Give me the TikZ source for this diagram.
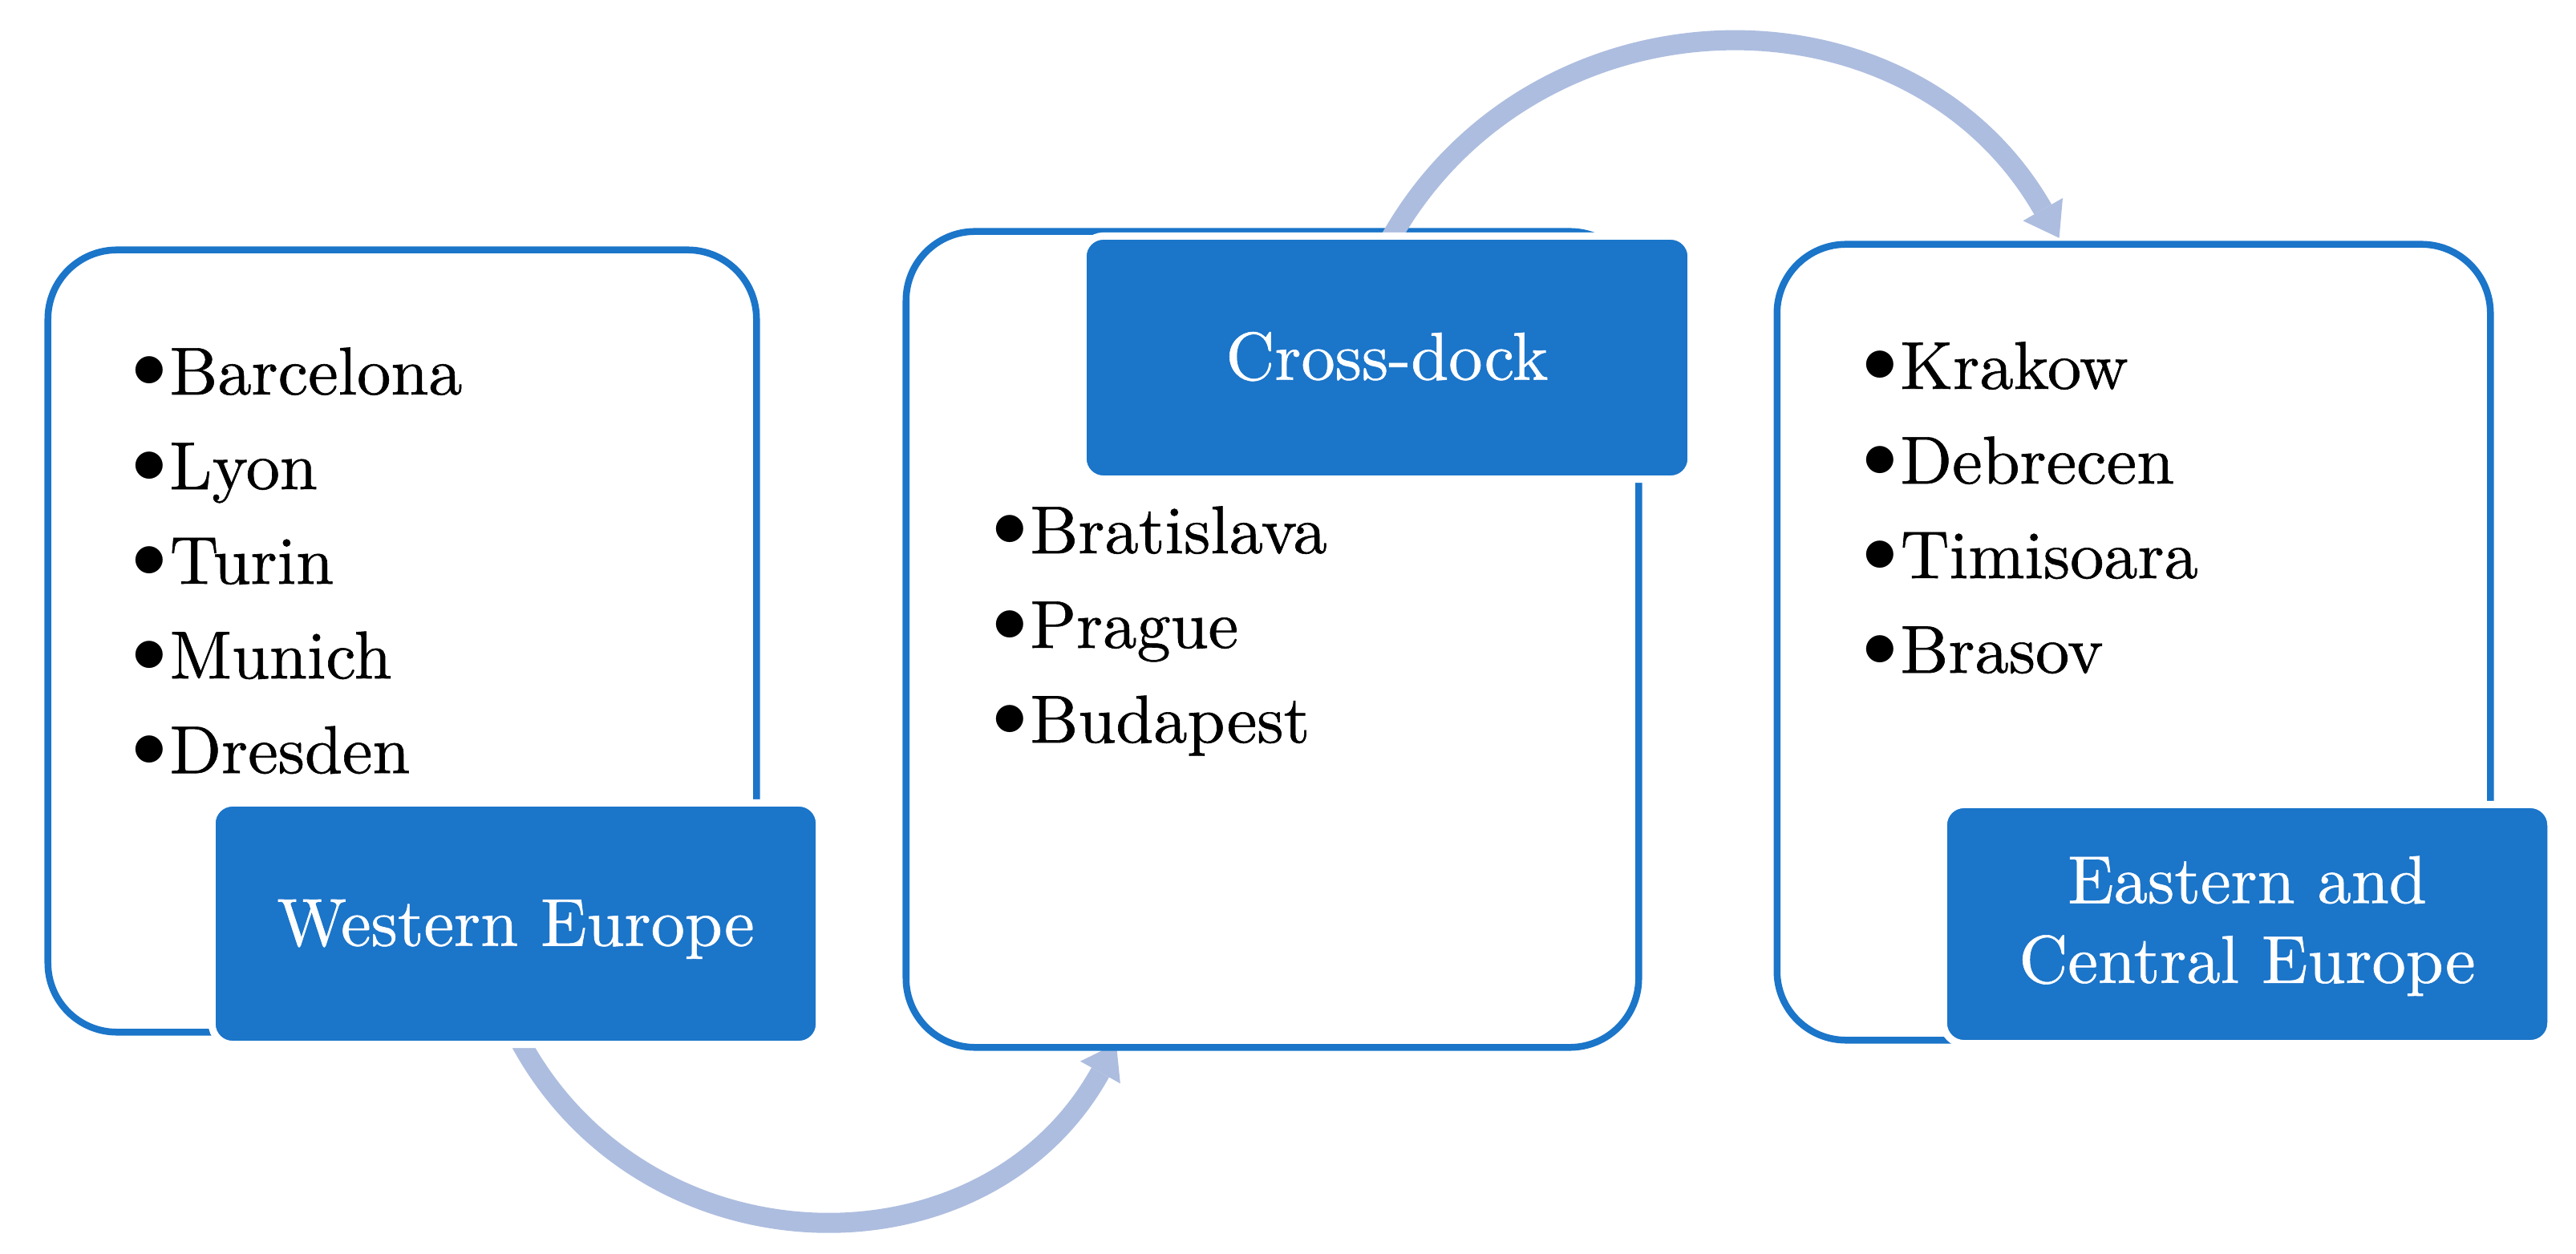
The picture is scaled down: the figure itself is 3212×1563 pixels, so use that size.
\documentclass[tikz,border=0pt]{standalone}
\usepackage{fontspec}
\newfontfamily\diagfont{lmroman10-regular}[Extension=.otf, FakeBold=0.7]
\usetikzlibrary{arrows.meta}
\definecolor{boxblue}{RGB}{27,117,201}
\definecolor{flowc}{RGB}{173,189,223}
\newcommand\bulitem{\makebox[0pt][r]{\raisebox{0.08cm}{$\bullet$}\hspace{0.03cm}}}
\tikzset{
  regbox/.style={draw=boxblue, line width=0.085cm, fill=white, rounded corners=0.86cm, inner sep=0pt},
  tagbox/.style={draw=white, line width=0.09cm, fill=boxblue, rounded corners=0.255cm, text=white,
    font=\diagfont\fontsize{24}{28.3}\selectfont, inner sep=0pt},
  citylist/.style={anchor=base west, inner sep=0pt, font=\diagfont\fontsize{24}{33.57}\selectfont},
  flowarrow/.style={draw=flowc, line width=0.25cm,
    -{Triangle[width=0.57cm,length=0.41cm,line width=0pt]}}
}
\begin{document}
\begin{tikzpicture}[x=0.01cm,y=0.01cm]
\useasboundingbox[fill=white] (0,0) rectangle (3212,1563);
% connector 1 (behind the boxes)
\coordinate (a1s) at (636.7,287.8);
\coordinate (a1c1) at (783.1,-26.2);
\coordinate (a1c2) at (1223.9,-41.6);
\coordinate (a1e) at (1391.8,261.4);
\draw[flowarrow] (a1s) .. controls (a1c1) and (a1c2) .. (a1e);
% boxes
\node[regbox, minimum width=8.83cm, minimum height=9.75cm] (west) at (501.5,763.5) {};
\node[regbox, minimum width=9.13cm, minimum height=10.17cm] (cross) at (1586.5,765.5) {};
\node[regbox, minimum width=8.89cm, minimum height=9.92cm] (east) at (2660.5,762) {};
% connector 2
\coordinate (a2s) at (1716.0,1230.5);
\coordinate (a2c1) at (1880.4,1583.1);
\coordinate (a2c2) at (2374.2,1603.9);
\coordinate (a2e) at (2567.6,1266.2);
\draw[flowarrow] (a2s) .. controls (a2c1) and (a2c2) .. (a2e);
% tags
\node[tagbox, minimum width=7.57cm, minimum height=3.01cm, text height=0.55cm, text depth=0pt] (westtag) at (643,411) {Western Europe};
\node[tagbox, minimum width=7.58cm, minimum height=3.03cm, text height=0.55cm, text depth=0pt] (crosstag) at (1729.5,1117) {Cross-dock};
\node[tagbox, minimum width=7.57cm, minimum height=2.98cm, text height=14.5pt, text depth=0pt] (easttag) at (2802,410.5)
  {\begin{tabular}{@{}c@{}}Eastern and\\Central Europe\end{tabular}};
% lists
\node[citylist] (westlist) at (211,1071) {\begin{tabular}[t]{@{}l@{}}\bulitem Barcelona\\ \bulitem Lyon\\ \bulitem Turin\\ \bulitem Munich\\ \bulitem Dresden\end{tabular}};
\node[citylist] (crosslist) at (1284,873) {\begin{tabular}[t]{@{}l@{}}\bulitem Bratislava\\ \bulitem Prague\\ \bulitem Budapest\end{tabular}};
\node[citylist] (eastlist) at (2369,1078) {\begin{tabular}[t]{@{}l@{}}\bulitem Krakow\\ \bulitem Debrecen\\ \bulitem Timisoara\\ \bulitem Brasov\end{tabular}};
\end{tikzpicture}
\end{document}
